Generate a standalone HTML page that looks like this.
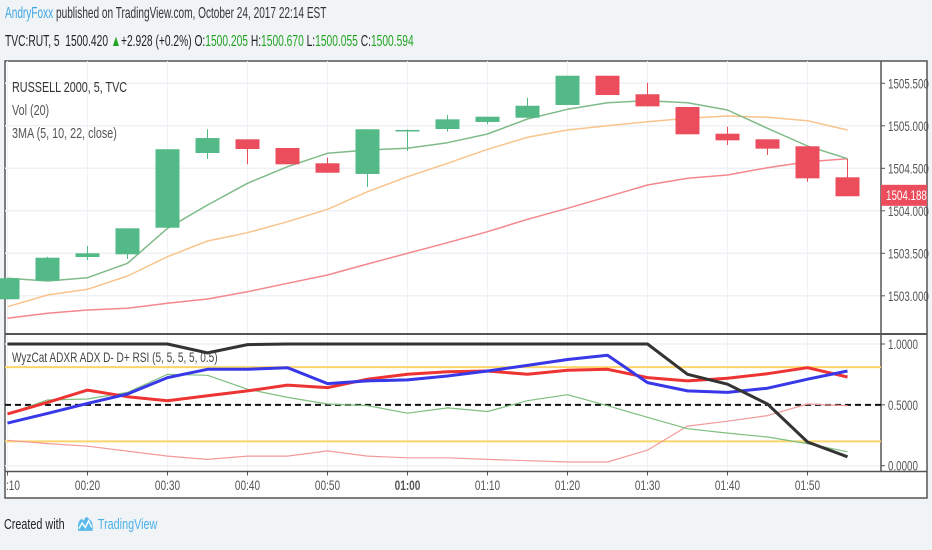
<!DOCTYPE html>
<html><head><meta charset="utf-8"><style>
html,body{margin:0;padding:0;width:932px;height:550px;overflow:hidden;background:#f1f4f7;font-family:"Liberation Sans",sans-serif;}
#hdr1{position:absolute;left:5px;top:5px;font-size:16px;color:#333;transform:scaleX(0.63);transform-origin:0 0;white-space:nowrap;}
#hdr2{position:absolute;left:5px;top:33px;font-size:16px;color:#222;transform:scaleX(0.64);transform-origin:0 0;white-space:nowrap;}
.g{color:#22a323}
#foot{position:absolute;left:4px;top:514px;font-size:15px;color:#222;transform:scaleX(0.72);transform-origin:0 0;white-space:nowrap;}
svg{position:absolute;left:0;top:0}
</style></head><body>
<div id="hdr1"><span style="color:#3ea6e0">AndryFoxx</span> published on TradingView.com, October 24, 2017 22:14 EST</div>
<div id="hdr2">TVC:RUT, 5 &nbsp;1500.420 <span class="g">▲</span>+2.928 (+0.2%) O:<span class="g">1500.205</span> H:<span class="g">1500.670</span> L:<span class="g">1500.055</span> C:<span class="g">1500.594</span></div>
<svg id="chart" width="932" height="550"></svg>
<div id="foot">Created with <span style="color:#4ab0e8;display:inline-block;margin-left:12px"><svg style="position:relative;vertical-align:-3px;margin-right:4px" width="26" height="18" viewBox="0 0 20 16"><path d="M1 15 L1 9 Q4 2 8 6 Q11 0 15 5 Q20 6 19 15 Z" fill="#5ab9ea"/><path d="M2 13 L6 8 L10 12 L14 6 L18 12" stroke="#fff" stroke-width="1.5" fill="none"/></svg>TradingView</span></div>
<script>
const opens=[1502.959,1503.178,1503.456,1503.488,1503.801,1504.680,1504.841,1504.739,1504.559,1504.433,1504.939,1504.962,1505.045,1505.095,1505.245,1505.589,1505.371,1505.221,1504.907,1504.841,1504.759,1504.394];
const highs=[1503.206,1503.460,1503.586,1503.794,1504.724,1504.959,1504.841,1504.739,1504.625,1504.959,1504.956,1505.127,1505.107,1505.331,1505.589,1505.589,1505.507,1505.221,1504.989,1504.841,1504.759,1504.613];
const lows=[1502.959,1503.178,1503.421,1503.433,1503.801,1504.609,1504.547,1504.547,1504.448,1504.280,1504.704,1504.931,1505.018,1505.095,1505.245,1505.362,1505.229,1504.900,1504.774,1504.656,1504.342,1504.171];
const closes=[1503.206,1503.448,1503.500,1503.794,1504.724,1504.856,1504.727,1504.547,1504.448,1504.959,1504.951,1505.076,1505.107,1505.236,1505.589,1505.362,1505.229,1504.900,1504.829,1504.731,1504.382,1504.171];
const ma5=[1503.206,1503.174,1503.213,1503.382,1503.794,1504.068,1504.324,1504.519,1504.676,1504.715,1504.735,1504.801,1504.904,1505.080,1505.194,1505.272,1505.295,1505.272,1505.186,1504.971,1504.762,1504.613];
const ma10=[1502.872,1503.009,1503.076,1503.233,1503.460,1503.645,1503.742,1503.872,1504.018,1504.225,1504.401,1504.559,1504.724,1504.865,1504.951,1505.001,1505.048,1505.088,1505.115,1505.100,1505.060,1504.951];
const ma22=[1502.735,1502.794,1502.833,1502.853,1502.912,1502.962,1503.048,1503.147,1503.245,1503.374,1503.500,1503.625,1503.754,1503.900,1504.029,1504.166,1504.304,1504.382,1504.421,1504.507,1504.578,1504.613];
const adxr=[1,1,1,1,1,0.927,0.995,1,1,1,1,1,1,1,1,1,1,0.751,0.670,0.507,0.195,0.073];
const adx=[0.350,0.43,0.512,0.589,0.724,0.792,0.792,0.805,0.675,0.697,0.705,0.737,0.778,0.824,0.873,0.908,0.683,0.615,0.602,0.637,0.711,0.778];
const rsi=[0.426,0.52,0.621,0.567,0.534,0.575,0.615,0.662,0.642,0.711,0.751,0.772,0.778,0.751,0.784,0.792,0.724,0.697,0.719,0.756,0.805,0.729];
const dminus=[0.426,0.540,0.548,0.602,0.751,0.743,0.629,0.561,0.507,0.493,0.431,0.475,0.445,0.534,0.583,0.493,0.398,0.304,0.268,0.236,0.182,0.114];
const dplus=[0.209,0.182,0.160,0.120,0.079,0.052,0.079,0.079,0.122,0.079,0.065,0.065,0.052,0.041,0.030,0.030,0.128,0.325,0.366,0.412,0.507,0.493];
const priceTicks=[1503.0,1503.5,1504.0,1504.5,1505.0,1505.5];
const oscTicks=[0,0.5,1];
const timeLabels=[":10","00:20","00:30","00:40","00:50","01:00","01:10","01:20","01:30","01:40","01:50"];
const lastPrice=1504.188;

const NS="http://www.w3.org/2000/svg";
const svg=document.getElementById('chart');
function el(tag,attrs,parent){const e=document.createElementNS(NS,tag);for(const k in attrs)e.setAttribute(k,attrs[k]);(parent||svg).appendChild(e);return e;}
function sq(x,s){return 'translate('+x+',0) scale('+s+',1) translate('+(-x)+',0)';}
const xOf=i=>7.5+40*i;
const yP=p=>83.3+(1505.5-p)*85;
const yO=v=>465.7-v*121.7;
const L=5,R=881,T=61,MB=334,OB=471.5,B=498;

let bg=el('rect',{x:L,y:T,width:927-L,height:B-T,fill:'#fff',stroke:'#555','stroke-width':1.5});

timeLabels.forEach((t,k)=>{const x=xOf(k*2);
 let g=el('line',{x1:x,x2:x,y1:T,y2:OB,stroke:'#eef1f5','stroke-width':1});
 
 let tk=el('line',{x1:x,x2:x,y1:OB,y2:OB+4,stroke:'#555'});
 
 const ax=k==0?L+1:x;
 let tx=el('text',{x:ax,y:490,'font-size':14,fill:'#555','text-anchor':k==0?'start':'middle','font-weight':t=='01:00'?'bold':'normal',transform:sq(ax,0.72)});
 tx.textContent=t;
});
priceTicks.forEach(p=>{const y=yP(p);
 let g=el('line',{x1:L,x2:R,y1:y,y2:y,stroke:'#eef1f5','stroke-width':1.5});
 
 let tk=el('line',{x1:R,x2:R+4,y1:y,y2:y,stroke:'#555'});
 
 let tx=el('text',{x:R+7,y:y+5,'font-size':14,fill:'#555',transform:sq(R+7,0.7)});tx.textContent=p.toFixed(3);
 
});
oscTicks.forEach(v=>{const y=yO(v);
 let g=el('line',{x1:L,x2:R,y1:y,y2:y,stroke:'#eef1f5','stroke-width':1.5});
 
 let tk=el('line',{x1:R,x2:R+4,y1:y,y2:y,stroke:'#555'});
 
 let tx=el('text',{x:R+7,y:y+5,'font-size':14,fill:'#555',transform:sq(R+7,0.7)});tx.textContent=v.toFixed(4);
 
});
let s1=el('line',{x1:L,x2:927,y1:MB,y2:MB,stroke:'#555','stroke-width':2});

let s2=el('line',{x1:L,x2:927,y1:OB,y2:OB,stroke:'#555','stroke-width':1.5});

let s3=el('line',{x1:R,x2:R,y1:T,y2:OB,stroke:'#555','stroke-width':1.5});


function poly(arr,yf,color,w,name,dash){const pts=arr.map((v,i)=>xOf(i)+','+yf(v).toFixed(1)).join(' ');
 const a={points:pts,fill:'none',stroke:color,'stroke-width':w,'stroke-linejoin':'round'};if(dash)a['stroke-dasharray']=dash;
 const e=el('polyline',a);return e;}
poly(ma22,yP,'#f4878d',1.5,'ma-22-line');
poly(ma10,yP,'#f8c48c',1.5,'ma-10-line');
poly(ma5,yP,'#7fbb88',1.5,'ma-5-line');
opens.forEach((o,i)=>{const c=closes[i];const up=c>=o;const col=up?'#53b987':'#eb4d5c';const x=xOf(i);
 const g=el('g',{});
 let w=el('line',{x1:x,x2:x,y1:yP(highs[i]),y2:yP(lows[i]),stroke:col,'stroke-width':1},g);
 
 const y1=yP(Math.max(o,c)),y2=yP(Math.min(o,c));
 let b=el('rect',{x:x-12,y:y1,width:24,height:Math.max(1.5,y2-y1),fill:col},g);
 
});
const ly=yP(lastPrice);
let lb=el('rect',{x:R,y:ly-10,width:46,height:21,fill:'#eb4d5c'});

let lt=el('text',{x:R+5,y:ly+5,'font-size':14,fill:'#fff',transform:sq(R+5,0.7)});lt.textContent=lastPrice.toFixed(3);

let y8=el('line',{x1:L,x2:R,y1:yO(0.81),y2:yO(0.81),stroke:'#fbd56b','stroke-width':2});

let y2l=el('line',{x1:L,x2:R,y1:yO(0.2),y2:yO(0.2),stroke:'#fbd56b','stroke-width':2});

let md=el('line',{x1:L,x2:R,y1:yO(0.5),y2:yO(0.5),stroke:'#111','stroke-width':2,'stroke-dasharray':'6,4'});

poly(dplus,yO,'#f29a9a',1.2,'dplus-line');
poly(dminus,yO,'#7fbf7f',1.2,'dminus-line');
poly(rsi,yO,'#ee3333',3,'rsi-line');
poly(adx,yO,'#3838e8',3,'adx-line');
poly(adxr,yO,'#333',3,'adxr-line');
const legs=[['RUSSELL 2000, 5, TVC',92,'#333','legend-symbol'],['Vol (20)',115,'#555','legend-volume'],['3MA (5, 10, 22, close)',138,'#555','legend-3ma']];
legs.forEach(l=>{let t=el('text',{x:12,y:l[1],'font-size':15,fill:l[2],transform:sq(12,0.72)});t.textContent=l[0];
 });
let ol=el('text',{x:12,y:362,'font-size':14,fill:'#444',transform:sq(12,0.72)});ol.textContent='WyzCat ADXR ADX D- D+ RSI  (5, 5, 5, 5, 0.5)';

</script>
</body></html>
